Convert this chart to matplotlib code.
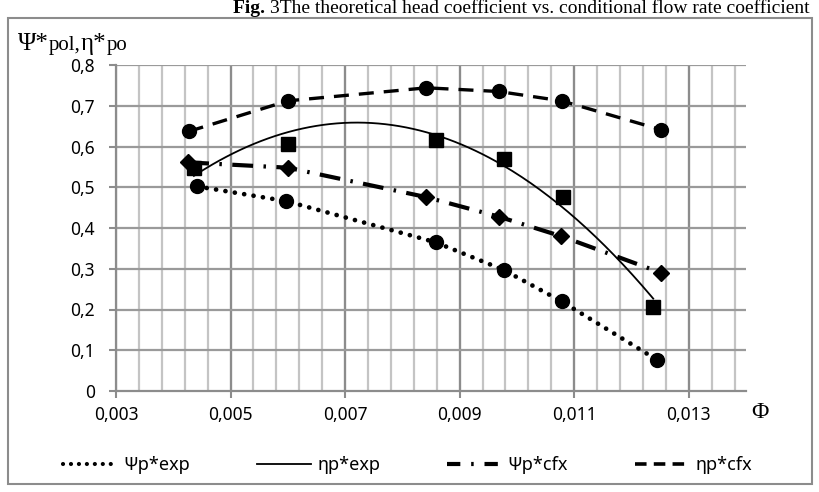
import matplotlib.pyplot as plt
import numpy as np
from matplotlib.patches import Rectangle

# values
psi_exp_x = [0.00442, 0.00597, 0.00858, 0.00977, 0.01078, 0.01244]
psi_exp_y = [0.502, 0.466, 0.365, 0.297, 0.220, 0.077]

eta_exp_x = [0.00436, 0.00600, 0.00858, 0.00978, 0.01081, 0.01238]
eta_exp_y = [0.547, 0.605, 0.615, 0.570, 0.476, 0.206]

psi_cfx_x = [0.00426, 0.00600, 0.00841, 0.00968, 0.01077, 0.01252]
psi_cfx_y = [0.561, 0.548, 0.476, 0.428, 0.380, 0.290]

eta_cfx_x = [0.00427, 0.00600, 0.00842, 0.00968, 0.01078, 0.01252]
eta_cfx_y = [0.637, 0.712, 0.744, 0.735, 0.712, 0.641]

x_ticks = [0.003, 0.005, 0.007, 0.009, 0.011, 0.013]
x_ticklabels = ["0,003", "0,005", "0,007", "0,009", "0,011", "0,013"]
y_ticks = [0, 0.1, 0.2, 0.3, 0.4, 0.5, 0.6, 0.7, 0.8]
y_ticklabels = ["0", "0,1", "0,2", "0,3", "0,4", "0,5", "0,6", "0,7", "0,8"]
legend_labels = ["Ψp*exp", "ηp*exp", "Ψp*cfx", "ηp*cfx"]

sans = "Noto Sans"
serif = "Liberation Serif"

fig = plt.figure(figsize=(8.2, 4.92), dpi=100)
ax = fig.add_axes([116 / 820, 1 - 391 / 492, 630 / 820, 326 / 492])

# grid
for xv in np.arange(0.0034, 0.0140, 0.0004):
    ax.axvline(xv, color="#c4c4c4", lw=1.6, zorder=0)
for xv in x_ticks:
    ax.axvline(xv, color="#8c8c8c", lw=1.6, zorder=0)
for yv in y_ticks[1:]:
    ax.axhline(yv, color="#9a9a9a", lw=1.6, zorder=0)

# Psi p* exp: dotted
ax.plot(psi_exp_x, psi_exp_y, color="black", lw=3.4, linestyle=(0, (0.01, 2.0)),
        dash_capstyle="round", zorder=3)
ax.plot(psi_exp_x, psi_exp_y, "o", color="black", ms=10, zorder=4)

# eta p* exp: markers + polynomial trendline
coef = np.polyfit(eta_exp_x, eta_exp_y, 2)
tx = np.linspace(min(eta_exp_x), max(eta_exp_x), 200)
ax.plot(tx, np.polyval(coef, tx), color="black", lw=1.3, zorder=3)
ax.plot(eta_exp_x, eta_exp_y, "s", color="black", ms=10, zorder=4)

# Psi p* cfx: dash-dot
ax.plot(psi_cfx_x, psi_cfx_y, color="black", lw=3.0,
        linestyle=(0, (5, 2.5, 0.6, 2.5)), zorder=3)
ax.plot(psi_cfx_x, psi_cfx_y, "D", color="black", ms=8, zorder=4)

# eta p* cfx: dashed
ax.plot(eta_cfx_x, eta_cfx_y, color="black", lw=2.4,
        linestyle=(0, (4.5, 3.0)), zorder=3)
ax.plot(eta_cfx_x, eta_cfx_y, "o", color="black", ms=10, zorder=4)

ax.set_xlim(0.003, 0.014)
ax.set_ylim(0, 0.8)
ax.set_xticks(x_ticks, x_ticklabels, fontfamily=sans, fontsize=12.5)
ax.set_yticks(y_ticks, y_ticklabels, fontfamily=sans, fontsize=12.5)
ax.tick_params(axis="both", direction="out", length=5, width=1.5, color="#8c8c8c", pad=6)
ax.tick_params(axis="y", pad=10)
for s in ["top", "right"]:
    ax.spines[s].set_visible(False)
for s in ["left", "bottom"]:
    ax.spines[s].set_color("#8c8c8c")
    ax.spines[s].set_linewidth(1.6)

# y label: pieces of two sizes set one after another on a common baseline
renderer = fig.canvas.get_renderer()
xpos = 18
for piece, size in [("Ψ*", 18), ("pol,", 15), ("η*", 18), ("po", 15)]:
    t = fig.text(xpos / 820, 1 - 50 / 492, piece, fontfamily=serif, fontsize=size,
                 va="baseline")
    xpos = t.get_window_extent(renderer).x1
fig.text(760 / 820, 1 - 412 / 492, "Φ", fontfamily=serif, fontsize=17, ha="center", va="center")

# title at the top edge
title_parts = [("Fig. ", "bold"),
               ("3The theoretical head coefficient vs. conditional flow rate coefficient", "normal")]
title_texts = [fig.text(0, 1 - 13 / 492, s, fontfamily=serif, fontsize=14,
                        fontweight=w, va="baseline") for s, w in title_parts]
widths = [t.get_window_extent(renderer).width for t in title_texts]
x0 = 521 - sum(widths) / 2
for t, w in zip(title_texts, widths):
    t.set_x(x0 / 820)
    x0 += w

# outer frame
fig.patches.append(Rectangle((8 / 820, 1 - 484 / 492), 804 / 820, 466 / 492,
                             transform=fig.transFigure, fill=False,
                             edgecolor="#8c8c8c", lw=1.5))

# legend
handles = [
    plt.Line2D([], [], color="black", lw=3.0, linestyle=(0, (0.01, 1.9)), dash_capstyle="round"),
    plt.Line2D([], [], color="black", lw=1.3),
    plt.Line2D([], [], color="black", lw=3.0, linestyle=(0, (3.2, 2.6, 0.6, 2.6))),
    plt.Line2D([], [], color="black", lw=2.6, linestyle=(0, (3.2, 2.0))),
]
fig.legend(handles, legend_labels, loc="center", bbox_to_anchor=(0.497, 1 - 465 / 492),
           ncol=4, frameon=False, prop={"family": sans, "size": 13},
           handlelength=3.0, handletextpad=0.35, columnspacing=3.7)

fig.savefig("out.png", dpi=100)
